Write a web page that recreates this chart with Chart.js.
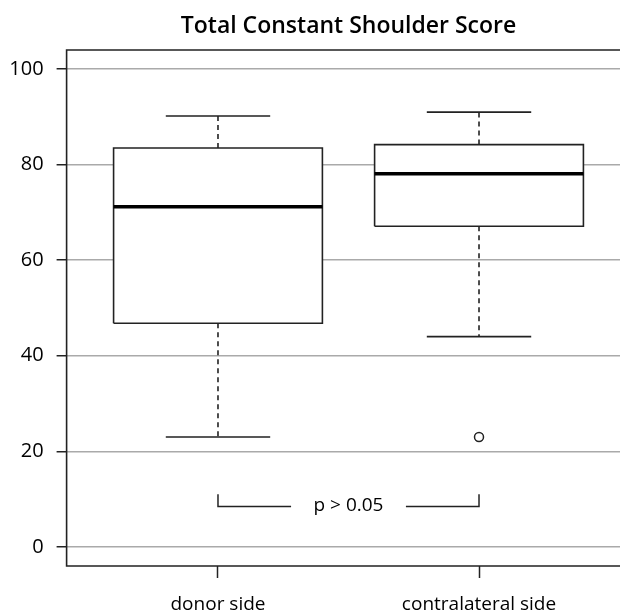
<!DOCTYPE html>
<html>
<head>
<meta charset="utf-8">
<script src="https://cdn.jsdelivr.net/npm/chart.js@4.4.1/dist/chart.umd.min.js"></script>
<style>
  html, body { margin: 0; padding: 0; background: #fff; overflow: hidden; }
  canvas { display: block; }
</style>
</head>
<body>
<canvas id="chart" width="650" height="614"></canvas>
<script>
const title = 'Total Constant Shoulder Score';
const categories = ['donor side', 'contralateral side'];
const whiskerLow = [23, 44];
const q1 = [46.8, 67.1];
const median = [71.2, 78.1];
const q3 = [83.5, 84.2];
const whiskerHigh = [90.2, 91.0];
const outliers = [[], [23]];
const yTicks = [0, 20, 40, 60, 80, 100];
const pLabel = 'p > 0.05';
const bracketLevel = 8.45;
const bracketTop = 11.0;

const INK = '#222';
const FONT = "'Open Sans', 'Noto Sans', sans-serif";
const BOX_HALF = 0.4;
const CAP_HALF = 0.2;
const BRACKET_GAP = 0.22;

const xs = categories.map((c, i) => i + 1);

// line segments separated by null gaps
function segs(list) {
  const out = [];
  list.forEach(([a, b]) => { out.push(a, b, { x: a.x, y: null }); });
  return out;
}

const lineBase = { type: 'line', pointRadius: 0, fill: false, spanGaps: false, borderColor: INK, tension: 0, order: 1 };

// one closed, white-filled outline per box
const boxSets = xs.map((x, i) => ({
  ...lineBase,
  order: 5,
  fill: 'shape',
  backgroundColor: '#fff',
  borderWidth: 1.6,
  data: [
    { x: x - BOX_HALF, y: q1[i] }, { x: x + BOX_HALF, y: q1[i] },
    { x: x + BOX_HALF, y: q3[i] }, { x: x - BOX_HALF, y: q3[i] },
    { x: x - BOX_HALF, y: q1[i] }
  ]
}));
const medianData = segs(xs.map((x, i) => [{ x: x - BOX_HALF, y: median[i] }, { x: x + BOX_HALF, y: median[i] }]));
const whiskerData = segs(xs.flatMap((x, i) => [
  [{ x, y: q3[i] }, { x, y: whiskerHigh[i] }],
  [{ x, y: q1[i] }, { x, y: whiskerLow[i] }]
]));
const capData = segs(xs.flatMap((x, i) => [
  [{ x: x - CAP_HALF, y: whiskerHigh[i] }, { x: x + CAP_HALF, y: whiskerHigh[i] }],
  [{ x: x - CAP_HALF, y: whiskerLow[i] }, { x: x + CAP_HALF, y: whiskerLow[i] }]
]));
const outlierData = xs.flatMap((x, i) => outliers[i].map(v => ({ x, y: v })));
const mid = (xs[0] + xs[1]) / 2;
const bracketData = [
  { x: xs[0], y: bracketTop }, { x: xs[0], y: bracketLevel }, { x: mid - BRACKET_GAP, y: bracketLevel },
  { x: mid, y: null },
  { x: mid + BRACKET_GAP, y: bracketLevel }, { x: xs[1], y: bracketLevel }, { x: xs[1], y: bracketTop }
];

const textPlugin = {
  id: 'texts',
  afterDatasetsDraw(chart) {
    const { ctx, chartArea: a, scales } = chart;
    ctx.save();
    // frame: the right side falls outside the window, as in the original
    ctx.strokeStyle = INK;
    ctx.lineWidth = 1.6;
    ctx.beginPath();
    ctx.moveTo(a.right, a.top);
    ctx.lineTo(a.left, a.top);
    ctx.lineTo(a.left, a.bottom);
    ctx.lineTo(a.right, a.bottom);
    ctx.stroke();
    ctx.fillStyle = '#000';
    ctx.textAlign = 'center';
    ctx.textBaseline = 'alphabetic';
    ctx.font = "600 23px " + FONT;
    ctx.fillText(title, (a.left + a.right) / 2, 33);
    ctx.font = "500 19px " + FONT;
    ctx.textBaseline = 'middle';
    ctx.fillText(pLabel, scales.x.getPixelForValue(mid), scales.y.getPixelForValue(bracketLevel) - 1);
    ctx.restore();
  }
};

new Chart(document.getElementById('chart'), {
  type: 'line',
  data: {
    datasets: [
      ...boxSets,
      { ...lineBase, data: whiskerData, borderWidth: 1.6, borderDash: [5, 4] },
      { ...lineBase, data: capData, borderWidth: 1.6 },
      { ...lineBase, data: medianData, borderWidth: 3.5, borderColor: '#000', order: 0 },
      { ...lineBase, data: bracketData, borderWidth: 1.5 },
      { type: 'scatter', data: outlierData, pointStyle: 'circle', pointRadius: 4.5, borderWidth: 1.5,
        pointBackgroundColor: '#fff', pointBorderColor: INK, order: 0 }
    ]
  },
  options: {
    responsive: false,
    animation: false,
    layout: { padding: { top: 50, right: 19.6, left: 0, bottom: 0 } },
    plugins: { legend: { display: false }, tooltip: { enabled: false }, title: { display: false } },
    scales: {
      x: {
        type: 'linear', min: 0.42, max: 2.58, offset: false,
        afterBuildTicks: s => { s.ticks = xs.map(v => ({ value: v })); },
        afterFit: s => { s.height = 48; },
        border: { display: false },
        grid: { drawOnChartArea: false, drawTicks: true, tickLength: 12, tickColor: INK, tickWidth: 1.5 },
        ticks: { callback: v => categories[v - 1], color: '#000', padding: 15, maxRotation: 0, autoSkip: false,
          font: { family: FONT, size: 19, weight: 500 } }
      },
      y: {
        type: 'linear', min: -4, max: 104,
        afterBuildTicks: s => { s.ticks = yTicks.map(v => ({ value: v })); },
        afterFit: s => { s.width = 66.6; },
        border: { display: false },
        grid: { color: '#aaa', lineWidth: 1.5, tickLength: 10, tickColor: INK, tickWidth: 1.5 },
        ticks: { color: '#000', padding: 13, font: { family: FONT, size: 20, weight: 500 } }
      }
    }
  },
  plugins: [textPlugin]
});
</script>
</body>
</html>
